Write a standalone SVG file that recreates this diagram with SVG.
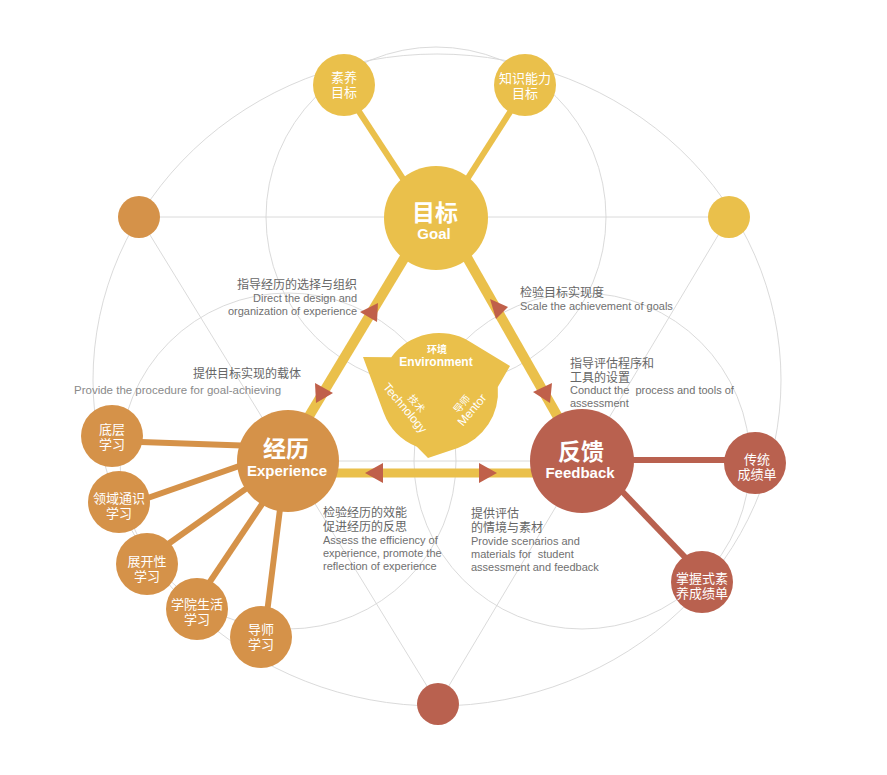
<svg xmlns="http://www.w3.org/2000/svg" width="887" height="775" viewBox="0 0 887 775">
<style>
.bg{fill:none;stroke:#d6d6d6;stroke-width:0.9}
.bar{stroke:#EAC04B;stroke-width:10;fill:none}
.sy{stroke:#EAC04B;stroke-width:6}
.so{stroke:#D59249;stroke-width:6}
.sr{stroke:#B9614F;stroke-width:6}
.y{fill:#EAC04B}
.o{fill:#D59249}
.r{fill:#B9614F}
.arr{fill:#C0604A}
.nt{font-family:"Liberation Sans","Noto Sans CJK SC",sans-serif;font-size:13px;fill:#fff;text-anchor:middle}
.bz{font-family:"Liberation Sans","Noto Sans CJK SC",sans-serif;font-size:23px;font-weight:bold;fill:#fff;text-anchor:middle}
.be{font-family:"Liberation Sans",Arial,sans-serif;font-size:15px;font-weight:bold;fill:#fff;text-anchor:middle}
.lz{font-family:"Liberation Sans","Noto Sans CJK SC",sans-serif;font-size:12px;fill:#666}
.le{font-family:"Liberation Sans",Arial,sans-serif;font-size:11px;fill:#707070;white-space:pre}
.env{font-family:"Liberation Sans","Noto Sans CJK SC",sans-serif;fill:#fff;text-anchor:middle}
</style>
<rect width="887" height="775" fill="#fff"/>
<g id="background">
<ellipse class="bg" cx="437" cy="380" rx="344" ry="326"/>
<circle class="bg" cx="436" cy="217" r="170"/>
<circle class="bg" cx="288" cy="461" r="168"/>
<circle class="bg" cx="582" cy="461" r="168"/>
<line class="bg" x1="139" y1="217" x2="729" y2="217"/>
<line class="bg" x1="139" y1="217" x2="438" y2="704"/>
<line class="bg" x1="729" y1="217" x2="438" y2="704"/>
<line class="bg" x1="288" y1="461" x2="582" y2="461"/>
</g>
<g id="connectors">
<line class="bar" x1="429" y1="217" x2="282" y2="461"/>
<line class="bar" x1="444" y1="217" x2="583" y2="461"/>
<line x1="288" y1="473" x2="582" y2="473" stroke="#EAC04B" stroke-width="9"/>
<line class="sy" x1="341" y1="84" x2="428" y2="217"/>
<line class="sy" x1="528" y1="84" x2="443" y2="217"/>
<line class="so" x1="112" y1="441" x2="288" y2="447"/>
<line class="so" x1="119" y1="508" x2="288" y2="449"/>
<line class="so" x1="147" y1="559" x2="288" y2="459"/>
<line class="so" x1="197" y1="601" x2="291" y2="461"/>
<line class="so" x1="264" y1="637" x2="286" y2="461"/>
<line class="sr" x1="582" y1="460" x2="755" y2="460"/>
<line class="sr" x1="595" y1="463" x2="702" y2="575"/>
<polygon class="arr" points="360,312 378,303 377,322"/>
<polygon class="arr" points="315,383 333,393 316,403"/>
<polygon class="arr" points="490,299 508,307 496,319"/>
<polygon class="arr" points="533,392 552,383 550,403"/>
<polygon class="arr" points="365,473 383,463 383,483"/>
<polygon class="arr" points="497,473 479,463 479,483"/>
</g>
<g id="deco-left"><circle class="o" cx="139" cy="217" r="21"/></g>
<g id="deco-right"><circle class="y" cx="729" cy="217" r="21"/></g>
<g id="deco-bottom"><circle class="r" cx="438" cy="704" r="21"/></g>
<g id="goal">
<circle class="y" cx="436" cy="218" r="52"/>
<text class="bz" x="435" y="221">目标</text>
<text class="be" x="434" y="239">Goal</text>
</g>
<g id="suyang">
<circle class="y" cx="344" cy="85" r="31"/>
<text class="nt" x="344" y="82">素养</text>
<text class="nt" x="344" y="97">目标</text>
</g>
<g id="zhishi">
<circle class="y" cx="525" cy="85" r="31"/>
<text class="nt" x="525" y="83">知识能力</text>
<text class="nt" x="525" y="98">目标</text>
</g>
<g id="experience">
<circle class="o" cx="288" cy="461" r="51"/>
<text class="bz" x="286" y="457">经历</text>
<text class="be" x="287" y="476">Experience</text>
</g>
<g id="diceng">
<circle class="o" cx="112" cy="436" r="31"/>
<text class="nt" x="112" y="434">底层</text>
<text class="nt" x="112" y="449">学习</text>
</g>
<g id="lingyu">
<circle class="o" cx="119" cy="502" r="31"/>
<text class="nt" x="119" y="503">领域通识</text>
<text class="nt" x="119" y="518">学习</text>
</g>
<g id="zhankai">
<circle class="o" cx="147" cy="564" r="31"/>
<text class="nt" x="147" y="566">展开性</text>
<text class="nt" x="147" y="581">学习</text>
</g>
<g id="xueyuan">
<circle class="o" cx="197" cy="609" r="31"/>
<text class="nt" x="197" y="609">学院生活</text>
<text class="nt" x="197" y="624">学习</text>
</g>
<g id="daoshi">
<circle class="o" cx="261" cy="637" r="31"/>
<text class="nt" x="261" y="634">导师</text>
<text class="nt" x="261" y="649">学习</text>
</g>
<g id="feedback">
<circle class="r" cx="582" cy="461" r="52"/>
<text class="bz" x="581" y="460">反馈</text>
<text class="be" x="580" y="478">Feedback</text>
</g>
<g id="chuantong">
<circle class="r" cx="755" cy="463" r="31"/>
<text class="nt" x="757" y="464">传统</text>
<text class="nt" x="757" y="479">成绩单</text>
</g>
<g id="zhangwo">
<circle class="r" cx="702" cy="582" r="31"/>
<text class="nt" x="702" y="583">掌握式素</text>
<text class="nt" x="702" y="598">养成绩单</text>
</g>
<g id="environment">
<path class="y" d="M391.3,357.3 A59,59 0 0 1 469.6,341.5 L510,366 L497.8,386.9 A59,59 0 0 1 457.8,447.9 L428,458 L416.9,446.7 A59,59 0 0 1 383.7,412.7 L363,357 Z"/>
<text class="env" x="437" y="353" font-size="10" font-weight="bold">环境</text>
<text class="env" x="436" y="366" font-size="12" font-weight="bold">Environment</text>
<g transform="translate(405,408) rotate(50)">
<text class="env" x="0" y="4" font-size="12">Technology</text>
<text class="env" x="4" y="-8" font-size="10">技术</text>
</g>
<g transform="translate(472,410) rotate(-50)">
<text class="env" x="0" y="4" font-size="12">Mentor</text>
<text class="env" x="-2" y="-8" font-size="10">导师</text>
</g>
</g>
<g id="labels">
<text class="lz" x="357" y="289" text-anchor="end">指导经历的选择与组织</text>
<text class="le" x="357" y="302" text-anchor="end">Direct the design and</text>
<text class="le" x="357" y="315" text-anchor="end">organization of experience</text>
<text class="lz" x="193" y="378">提供目标实现的载体</text>
<text class="le" x="74" y="394" style="fill:#8a8a8a;font-size:11.5px">Provide the procedure for goal-achieving</text>
<text class="lz" x="520" y="297">检验目标实现度</text>
<text class="le" x="520" y="310">Scale the achievement of goals</text>
<text class="lz" x="570" y="368">指导评估程序和</text>
<text class="lz" x="570" y="382">工具的设置</text>
<text class="le" x="570" y="394">Conduct the  process and tools of</text>
<text class="le" x="570" y="407">assessment</text>
<text class="lz" x="323" y="517">检验经历的效能</text>
<text class="lz" x="323" y="531">促进经历的反思</text>
<text class="le" x="323" y="544">Assess the efficiency of</text>
<text class="le" x="323" y="557">experience, promote the</text>
<text class="le" x="323" y="570">reflection of experience</text>
<text class="lz" x="471" y="518">提供评估</text>
<text class="lz" x="471" y="532">的情境与素材</text>
<text class="le" x="471" y="545">Provide scenarios and</text>
<text class="le" x="471" y="558">materials for  student</text>
<text class="le" x="471" y="571">assessment and feedback</text>
</g>
</svg>
